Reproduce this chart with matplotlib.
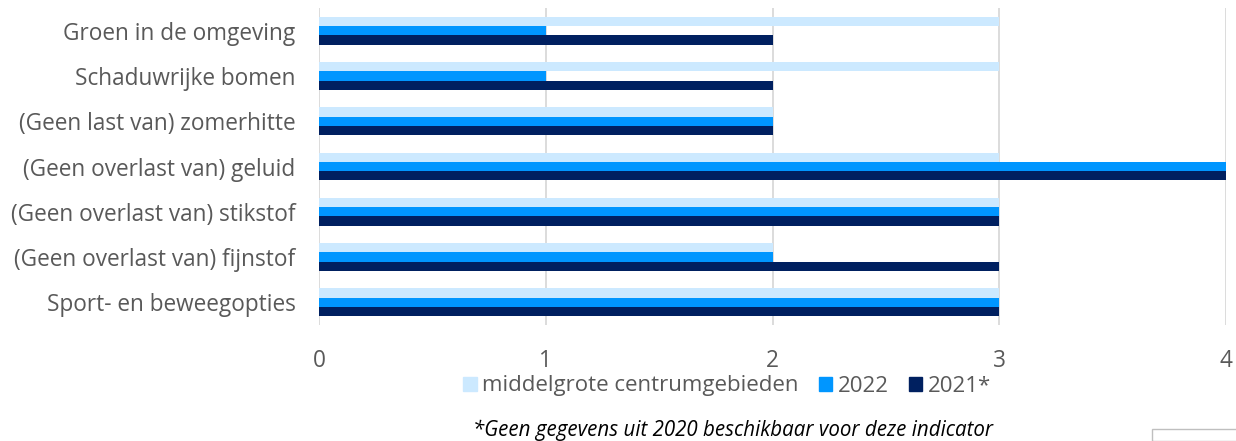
import matplotlib
matplotlib.use("Agg")
import matplotlib.pyplot as plt
import numpy as np
from matplotlib.patches import Rectangle, Patch

categories = ["Groen in de omgeving", "Schaduwrijke bomen", "(Geen last van) zomerhitte",
              "(Geen overlast van) geluid", "(Geen overlast van) stikstof",
              "(Geen overlast van) fijnstof", "Sport- en beweegopties"]
middelgrote = [3, 3, 2, 3, 3, 2, 3]
v2022 = [1, 1, 2, 4, 3, 2, 3]
v2021 = [2, 2, 2, 4, 3, 3, 3]
series_names = ["middelgrote centrumgebieden", "2022", "2021*"]
colors = ["#CCE9FF", "#0096FF", "#002060"]
xticks = [0, 1, 2, 3, 4]

plt.rcParams['font.family'] = ['Open Sans', 'DejaVu Sans']
fig = plt.figure(figsize=(12.36, 4.41), dpi=100)
ax = fig.add_axes([319/1236, 1-325/441, (1226-319)/1236, (325-8)/441])

n = len(categories)
y = np.arange(n)
h = 0.205
for i, (vals, c) in enumerate(zip([middelgrote, v2022, v2021], colors)):
    ax.barh(y + (i - 1) * h, vals, height=h, color=c, zorder=3)

ax.set_ylim(n - 0.5, -0.5)
ax.set_xlim(0, 4)
ax.set_yticks(y)
ax.set_yticklabels(categories, fontsize=16.3, color="#595959")
ax.set_xticks(xticks)
ax.set_xticklabels([str(t) for t in xticks], fontsize=16.3, color="#595959")
ax.tick_params(axis='both', length=0)
ax.tick_params(axis='x', pad=17)
ax.tick_params(axis='y', pad=17)
ax.grid(axis='x', color="#D9D9D9", linewidth=1.3, zorder=0)
for s in ax.spines.values():
    s.set_visible(False)

handles = [Patch(color=c) for c in colors]
fig.legend(handles, series_names, loc='center', bbox_to_anchor=(727/1236, 1-386/441),
           ncol=3, frameon=False, fontsize=16, handlelength=0.6, handleheight=0.6,
           handletextpad=0.25, columnspacing=0.9, labelcolor="#595959",
           borderpad=0, borderaxespad=0)

fig.text(733/1236, 1-430/441, "*Geen gegevens uit 2020 beschikbaar voor deze indicator",
         ha='center', va='center', fontsize=14.8, style='italic', color="#000000")

fig.patches.append(Rectangle((1152/1236, 0), 0.2, 12/441, transform=fig.transFigure,
                             fill=False, edgecolor="#BFBFBF", linewidth=1))

fig.savefig("out.png", dpi=100)
